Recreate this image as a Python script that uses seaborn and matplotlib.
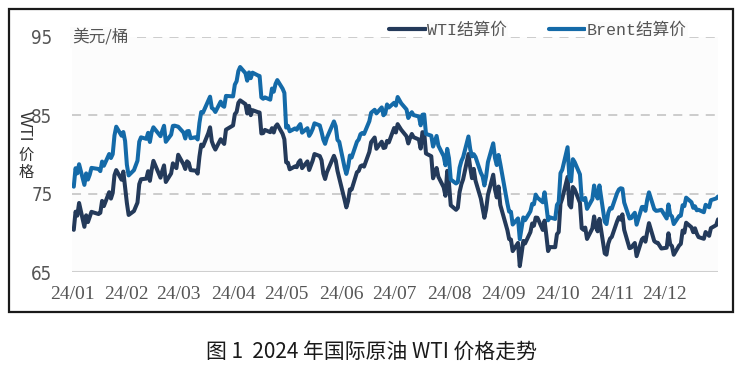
import numpy as np
import pandas as pd
import matplotlib
matplotlib.use("Agg")
import matplotlib.pyplot as plt
import matplotlib.dates as mdates
from matplotlib.lines import Line2D
from matplotlib.patches import Rectangle
import seaborn as sns

# ---------------- data ----------------
holidays = ["2024-01-01", "2024-01-15", "2024-02-19", "2024-03-29", "2024-05-27",
            "2024-06-19", "2024-07-04", "2024-09-02", "2024-11-28", "2024-12-25"]
dates = pd.bdate_range("2024-01-01", "2024-12-31")
dates = dates[~dates.isin(pd.to_datetime(holidays))]

wti = [
    # Jan
    70.38, 72.70, 72.19, 73.81, 70.77, 72.24, 71.37, 72.02, 72.68, 72.40, 72.56, 74.08, 73.41,
    75.19, 74.37, 75.09, 77.36, 78.01, 76.78, 77.82, 75.85,
    # Feb
    73.82, 72.28, 72.78, 73.31, 73.86, 76.22, 76.84, 76.92, 77.87, 76.64, 78.03, 79.19, 77.04,
    77.91, 78.61, 76.49, 77.58, 78.87, 78.54, 78.26,
    # Mar
    79.97, 78.74, 78.15, 79.13, 78.93, 78.01, 77.93, 77.56, 79.72, 81.26, 81.04, 82.72, 83.47,
    81.68, 81.07, 80.63, 81.95, 81.62, 81.35, 83.17,
    # Apr
    83.71, 85.15, 85.43, 86.59, 86.91, 86.43, 85.23, 86.21, 85.02, 85.66, 85.41, 85.36, 82.69,
    82.73, 83.14, 82.85, 83.36, 82.81, 83.57, 83.85, 82.63, 81.93,
    # May
    79.00, 78.95, 78.11, 78.48, 78.38, 78.99, 79.26, 78.26, 79.12, 78.02, 78.63, 79.23, 80.06,
    79.80, 79.26, 77.57, 76.87, 77.72, 79.83, 79.23, 77.91, 76.99,
    # Jun
    74.22, 73.25, 74.07, 75.55, 75.53, 77.74, 77.90, 78.50, 78.62, 78.45, 80.33, 81.57, 82.17,
    80.73, 81.63, 80.83, 80.90, 81.74, 81.54,
    # Jul
    83.38, 82.81, 83.88, 83.16, 82.33, 81.41, 82.10, 82.62, 82.21, 81.91, 80.76, 82.85, 82.82,
    80.13, 79.78, 76.96, 77.59, 78.28, 77.16, 75.81, 74.73, 77.91,
    # Aug
    76.31, 73.52, 72.94, 73.20, 75.23, 76.19, 76.84, 80.06, 78.35, 76.98, 78.16, 76.65, 74.37,
    73.17, 71.93, 73.01, 74.83, 77.42, 75.53, 74.52, 75.91, 73.55,
    # Sep
    70.34, 69.20, 69.15, 67.67, 68.71, 65.75, 67.31, 68.97, 68.65, 70.09, 71.19, 70.91, 71.95,
    71.92, 70.37, 71.56, 69.69, 67.67, 68.18, 68.17,
    # Oct
    69.83, 70.10, 73.71, 74.38, 77.14, 73.57, 73.24, 75.85, 75.56, 73.83, 70.58, 70.39, 70.67,
    69.22, 70.56, 72.09, 70.77, 70.19, 71.78, 67.38, 67.21, 68.61, 69.26,
    # Nov
    69.49, 71.47, 71.99, 71.69, 72.36, 70.38, 68.04, 68.12, 68.43, 68.70, 67.02, 69.16, 69.39,
    68.87, 70.10, 71.24, 68.94, 68.77, 68.72, 68.00,
    # Dec
    68.10, 69.94, 68.54, 68.30, 67.20, 68.37, 68.59, 70.29, 70.02, 71.29, 70.71, 70.08, 70.58,
    69.91, 69.46, 69.24, 70.10, 69.62, 70.60, 70.99, 71.72,
]

brent = [
    # Jan
    75.89, 78.25, 77.59, 78.76, 76.12, 77.59, 76.80, 77.41, 78.29, 78.15, 77.88, 79.10, 78.56,
    80.06, 79.55, 80.04, 82.43, 83.55, 82.40, 82.87, 81.71,
    # Feb
    78.70, 77.33, 78.00, 78.59, 79.21, 81.63, 82.19, 82.00, 82.77, 81.60, 82.86, 83.47, 82.34,
    83.03, 83.67, 81.62, 82.53, 83.65, 83.68, 83.62,
    # Mar
    83.55, 82.80, 82.04, 82.96, 83.00, 82.08, 82.21, 81.92, 84.03, 85.42, 85.34, 86.89, 87.38,
    85.95, 85.78, 85.43, 86.75, 86.25, 86.09, 87.48,
    # Apr
    87.42, 88.92, 89.35, 90.65, 91.17, 90.38, 89.42, 90.48, 89.74, 90.45, 90.10, 90.02, 87.29,
    87.11, 87.29, 87.00, 88.42, 88.02, 89.01, 89.50, 88.40, 87.86,
    # May
    83.44, 83.67, 82.96, 83.33, 83.16, 83.58, 83.88, 82.79, 83.36, 82.38, 82.75, 83.27, 83.98,
    83.71, 82.88, 81.90, 81.36, 82.12, 84.22, 83.60, 81.86, 81.62,
    # Jun
    78.36, 77.52, 78.41, 79.87, 79.62, 81.63, 81.92, 82.60, 82.75, 82.62, 84.25, 85.33, 85.71,
    85.24, 86.01, 85.01, 85.25, 86.39, 86.00,
    # Jul
    86.60, 86.24, 87.34, 86.54, 85.75, 84.66, 85.08, 85.40, 85.03, 84.85, 83.73, 85.08, 85.11,
    82.63, 82.40, 81.01, 81.71, 82.37, 81.13, 79.78, 78.63, 80.72,
    # Aug
    79.52, 76.81, 76.30, 76.48, 78.33, 79.16, 79.66, 82.30, 80.69, 79.76, 80.04, 79.68, 77.66,
    77.20, 76.05, 77.22, 79.02, 81.43, 79.55, 78.65, 79.94, 78.80,
    # Sep
    73.75, 72.70, 72.69, 71.06, 71.84, 69.19, 70.61, 71.97, 71.61, 72.75, 73.70, 73.65, 74.88,
    74.49, 73.90, 75.17, 73.46, 71.60, 71.98, 71.77,
    # Oct
    73.56, 73.90, 77.62, 78.05, 80.93, 77.18, 76.58, 79.40, 79.04, 77.46, 74.25, 74.22, 74.45,
    73.06, 74.29, 76.04, 74.96, 74.38, 76.05, 71.42, 71.12, 72.55, 73.16,
    # Nov
    73.10, 75.08, 75.53, 75.69, 75.63, 73.87, 71.83, 71.89, 72.28, 72.56, 71.04, 73.30, 73.31,
    72.81, 74.23, 75.17, 73.01, 72.81, 72.83, 72.94,
    # Dec
    71.83, 73.62, 72.31, 72.09, 71.12, 72.14, 72.19, 73.52, 73.41, 74.49, 73.91, 73.19, 73.39,
    72.88, 72.94, 72.63, 73.58, 73.26, 74.17, 74.39, 74.64,
]

series_names = ["WTI结算价", "Brent结算价"]
y_ticks = [65, 75, 85, 95]
unit_label = "美元/桶"
y_label_latin = "WTI"
y_label_cjk = "价\n格"
caption = "图 1  2024 年国际原油 WTI 价格走势"

df = pd.concat([
    pd.DataFrame({"date": dates, "price": wti, "series": series_names[0]}),
    pd.DataFrame({"date": dates, "price": brent, "series": series_names[1]}),
], ignore_index=True)

# ---------------- style ----------------
sns.set_style("white")
plt.rcParams["font.family"] = ["Noto Sans CJK SC", "DejaVu Sans"]

colors = {series_names[0]: "#243a5a", series_names[1]: "#146aa8"}
tick_color = "#555555"

fig = plt.figure(figsize=(7.51, 3.77), dpi=100)
ax = fig.add_axes([72 / 751, 1 - 272 / 377, (718 - 72) / 751, (272 - 37) / 377])
ax.set_facecolor("#fcfcfc")

sns.lineplot(data=df, x="date", y="price", hue="series", palette=colors,
             linewidth=2.9, ax=ax, legend=False)

ax.set_xlim(pd.Timestamp("2024-01-01"), pd.Timestamp("2024-12-31"))
ax.set_ylim(65, 95)
ax.set_yticks(y_ticks)
ax.set_xlabel("")
ax.set_ylabel("")

# grid lines
for v in y_ticks[1:]:
    ax.axhline(v, color="#c8c8c8", linewidth=1.3, linestyle=(0, (5, 4)), zorder=0)
ax.axhline(65, color="#cfcfcf", linewidth=1.5, zorder=0)

for s in ax.spines.values():
    s.set_visible(False)

ax.xaxis.set_major_locator(mdates.MonthLocator())
ax.xaxis.set_major_formatter(mdates.DateFormatter("%y/%m"))
ax.tick_params(axis="both", length=0, colors=tick_color)
ax.tick_params(axis="x", pad=10, labelsize=14)
ax.tick_params(axis="y", pad=14, labelsize=13.5)
for lab in ax.get_xticklabels():
    lab.set_family(["Liberation Serif", "DejaVu Serif"])
for lab in ax.get_yticklabels():
    lab.set_family(["DejaVu Sans"])
    lab.set_fontstretch("condensed")

# unit label
ax.text(pd.Timestamp("2024-01-01"), 95, unit_label, ha="left", va="center",
        fontsize=12, color=tick_color,
        bbox=dict(facecolor="#fcfcfc", edgecolor="none", pad=1.5), zorder=3)

# legend
handles = [Line2D([0], [0], color=colors[n], linewidth=3.0) for n in series_names]
leg = ax.legend(handles, series_names, loc="center right", bbox_to_anchor=(0.952, 1.03),
                ncol=2, frameon=False, handlelength=2.2, handletextpad=0.1,
                columnspacing=2.5, borderpad=0, borderaxespad=0,
                prop={"family": ["Liberation Mono", "Noto Sans CJK SC"], "size": 12})
for t in leg.get_texts():
    t.set_color(tick_color)
    t.set_bbox(dict(facecolor="#fcfcfc", edgecolor="none", pad=0.5))

# y axis label
fig.text(24 / 751, 1 - 126 / 377, y_label_latin, rotation=-90, ha="center", va="center",
         fontsize=12, color="#333333", family=["Liberation Sans", "DejaVu Sans"])
fig.text(26 / 751, 1 - 164 / 377, y_label_cjk, ha="center", va="center",
         fontsize=11, color="#333333", linespacing=1.05)

# outer border
fig.patches.append(Rectangle((9 / 751, 1 - 312 / 377), (733 - 9) / 751, (312 - 9) / 377,
                             transform=fig.transFigure, fill=False, edgecolor="#1a1a1a",
                             linewidth=1.6))

# caption
fig.text(371 / 751, 1 - 352 / 377, caption, ha="center", va="center",
         fontsize=15, color="#1a1a1a")

fig.savefig("out.png", dpi=100, facecolor="white")
